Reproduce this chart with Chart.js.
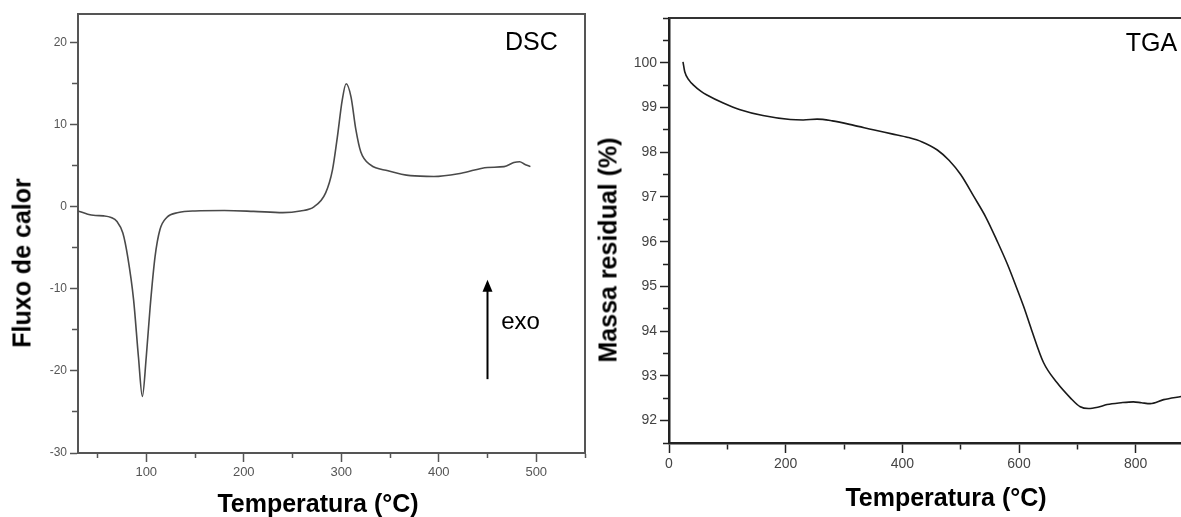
<!DOCTYPE html>
<html>
<head>
<meta charset="utf-8">
<script src="https://cdn.jsdelivr.net/npm/chart.js@4.4.0/dist/chart.umd.min.js"></script>
<style>
  html, body { margin: 0; padding: 0; width: 1181px; height: 517px; overflow: hidden; background: #fff; }
  body { position: relative; font-family: Arial, "Liberation Sans", sans-serif; }
  canvas { position: absolute; top: 0; }
  #dsc { left: 0; }
  #tga { left: 590px; }
  .axt { position: absolute; font-weight: bold; font-size: 25px; color: #000; white-space: nowrap; transform: translate(-50%, -50%); }
  .axt.vert { transform: translate(-50%, -50%) rotate(-90deg); }
</style>
</head>
<body>
<canvas id="dsc" width="600" height="517"></canvas>
<canvas id="tga" width="620" height="517"></canvas>

<div class="axt" style="left:318px; top:503px;">Temperatura (°C)</div>
<div class="axt vert" style="left:22px; top:263px;">Fluxo de calor</div>
<div class="axt" style="left:946px; top:497px;">Temperatura (°C)</div>
<div class="axt vert" style="left:608px; top:250px;">Massa residual (%)</div>

<script>
// DSC curve (temperature in °C, heat flow)
var dscTemp = [30, 40, 48, 56, 64, 70, 76, 81, 87, 92, 96, 100, 104, 109, 114, 121, 133, 150, 180, 210, 240, 258, 272, 284, 291, 296, 301, 305, 310, 315, 320, 330, 348, 371, 395, 423, 450, 467, 477, 483, 488, 494];
var dscFlow = [-0.5, -0.9, -1.05, -1.1, -1.3, -1.8, -3.2, -6.1, -11.3, -18.3, -23.1, -18.3, -12.2, -6.1, -2.8, -1.3, -0.7, -0.5, -0.45, -0.55, -0.7, -0.5, 0, 1.7, 4.5, 8.5, 13, 15.0, 13.4, 9.4, 6.7, 5.1, 4.4, 3.8, 3.7, 4.1, 4.8, 4.9, 5.4, 5.5, 5.2, 4.9];

// TGA curve (temperature in °C, residual mass %)
var tgaTemp = [24, 27, 35, 42, 55, 65, 93, 122, 161, 208, 230, 254, 280, 317, 350, 382, 410, 434, 460, 480, 500, 523, 543, 563, 580, 595, 608, 621, 642, 665, 688, 705, 719, 735, 751, 775, 796, 810, 825, 848, 878];
var tgaMass = [100.02, 99.8, 99.6, 99.5, 99.36, 99.28, 99.1, 98.95, 98.82, 98.73, 98.72, 98.74, 98.7, 98.6, 98.5, 98.41, 98.33, 98.23, 98.05, 97.82, 97.5, 97.0, 96.55, 96.0, 95.5, 95.0, 94.55, 94.05, 93.3, 92.85, 92.51, 92.31, 92.27, 92.3, 92.36, 92.4, 92.42, 92.4, 92.38, 92.47, 92.54];

// axis tick labels
var dscXLabels = [100, 200, 300, 400, 500];
var dscYLabels = [-30, -20, -10, 0, 10, 20];
var tgaXLabels = [0, 200, 400, 600, 800];
var tgaYLabels = [92, 93, 94, 95, 96, 97, 98, 99, 100];

var FONT = 'Arial, "Liberation Sans", sans-serif';

function points(xs, ys) {
  return xs.map(function (x, i) { return { x: x, y: ys[i] }; });
}

function labelIf(list) {
  return function (v) { return list.indexOf(Math.round(v * 100) / 100) >= 0 ? v : ''; };
}

// minor ticks drawn shorter with a dash pattern
function bottomDash(list, minorLen) {
  return function (ctx) {
    if (!ctx.tick) return [];
    return list.indexOf(ctx.tick.value) >= 0 ? [] : [minorLen, 40];
  };
}
function leftDash(list, tickLen, minorLen) {
  return function (ctx) {
    if (!ctx.tick) return [];
    var v = Math.round(ctx.tick.value * 100) / 100;
    return list.indexOf(v) >= 0 ? [] : [0, tickLen - 1 - minorLen, minorLen, 40];
  };
}

var framePlugin = {
  id: 'frame',
  afterDraw: function (chart) {
    var a = chart.chartArea, c = chart.ctx;
    c.save();
    c.strokeStyle = chart.options.frameColor;
    c.lineWidth = 2;
    c.beginPath();
    c.moveTo(a.left, a.top);
    c.lineTo(a.right, a.top);
    c.lineTo(a.right, a.bottom);
    c.stroke();
    c.restore();
  }
};

var dscNotes = {
  id: 'dscNotes',
  afterDraw: function (chart) {
    var c = chart.ctx, x = chart.scales.x, y = chart.scales.y;
    c.save();
    c.fillStyle = '#000';
    c.font = '25px ' + FONT;
    c.textAlign = 'center';
    c.textBaseline = 'middle';
    c.fillText('DSC', x.getPixelForValue(495), y.getPixelForValue(20));
    // exo arrow
    var ax = x.getPixelForValue(450);
    var top = y.getPixelForValue(-8.9), bot = y.getPixelForValue(-21);
    c.strokeStyle = '#000';
    c.lineWidth = 2;
    c.beginPath();
    c.moveTo(ax, bot);
    c.lineTo(ax, top + 8);
    c.stroke();
    c.beginPath();
    c.moveTo(ax, top);
    c.lineTo(ax - 5, top + 12);
    c.lineTo(ax + 5, top + 12);
    c.closePath();
    c.fill();
    c.font = '24px ' + FONT;
    c.textAlign = 'left';
    c.fillText('exo', x.getPixelForValue(464), y.getPixelForValue(-14.1));
    c.restore();
  }
};

var tgaNotes = {
  id: 'tgaNotes',
  afterDraw: function (chart) {
    var c = chart.ctx, x = chart.scales.x, y = chart.scales.y;
    c.save();
    c.fillStyle = '#000';
    c.font = '25px ' + FONT;
    c.textAlign = 'center';
    c.textBaseline = 'middle';
    c.fillText('TGA', x.getPixelForValue(827), y.getPixelForValue(100.42));
    c.restore();
  }
};

new Chart(document.getElementById('dsc'), {
  type: 'line',
  data: {
    datasets: [{
      data: points(dscTemp, dscFlow),
      borderColor: '#4a4a4a',
      borderWidth: 1.6,
      pointRadius: 0,
      cubicInterpolationMode: 'monotone',
      fill: false
    }]
  },
  options: {
    responsive: false,
    animation: false,
    frameColor: '#555',
    layout: { padding: { top: 14, right: 15, left: 0, bottom: 0 } },
    plugins: { legend: { display: false }, tooltip: { enabled: false } },
    scales: {
      x: {
        type: 'linear', min: 30, max: 550,
        afterFit: function (s) { s.height = 64; },
        border: { display: true, color: '#555', width: 2 },
        grid: { drawOnChartArea: false, tickLength: 9, tickColor: '#555', tickWidth: 1.5,
                tickBorderDash: bottomDash(dscXLabels, 4) },
        ticks: { stepSize: 50, includeBounds: false, autoSkip: false, maxRotation: 0,
                 color: '#555', padding: 3, font: { size: 13, family: FONT },
                 callback: labelIf(dscXLabels) }
      },
      y: {
        type: 'linear', min: -30, max: 23.5,
        afterFit: function (s) { s.width = 78; },
        border: { display: true, color: '#555', width: 2 },
        grid: { drawOnChartArea: false, tickLength: 8, tickColor: '#555', tickWidth: 1.5,
                tickBorderDash: leftDash(dscYLabels, 8, 5) },
        ticks: { stepSize: 5, includeBounds: false, autoSkip: false,
                 color: '#555', padding: 3, font: { size: 12, family: FONT },
                 callback: labelIf(dscYLabels) }
      }
    }
  },
  plugins: [framePlugin, dscNotes]
});

new Chart(document.getElementById('tga'), {
  type: 'line',
  data: {
    datasets: [{
      data: points(tgaTemp, tgaMass),
      borderColor: '#1a1a1a',
      borderWidth: 1.6,
      pointRadius: 0,
      cubicInterpolationMode: 'monotone',
      fill: false
    }]
  },
  options: {
    responsive: false,
    animation: false,
    frameColor: '#333',
    layout: { padding: { top: 18, right: 16, left: 0, bottom: 0 } },
    plugins: { legend: { display: false }, tooltip: { enabled: false } },
    scales: {
      x: {
        type: 'linear', min: 0, max: 900,
        afterFit: function (s) { s.height = 74; },
        border: { display: true, color: '#222', width: 2.5 },
        grid: { drawOnChartArea: false, tickLength: 10, tickColor: '#222', tickWidth: 1.5,
                tickBorderDash: bottomDash(tgaXLabels, 5) },
        ticks: { stepSize: 100, includeBounds: false, autoSkip: false, maxRotation: 0,
                 color: '#444', padding: 3, font: { size: 14, family: FONT },
                 callback: labelIf(tgaXLabels) }
      },
      y: {
        type: 'linear', min: 91.5, max: 101,
        afterFit: function (s) { s.width = 79; },
        border: { display: true, color: '#222', width: 2.5 },
        grid: { drawOnChartArea: false, tickLength: 9, tickColor: '#222', tickWidth: 1.5,
                tickBorderDash: leftDash(tgaYLabels, 9, 5) },
        ticks: { stepSize: 0.5, includeBounds: false, autoSkip: false,
                 color: '#444', padding: 3, font: { size: 14, family: FONT },
                 callback: labelIf(tgaYLabels) }
      }
    }
  },
  plugins: [framePlugin, tgaNotes]
});
</script>
</body>
</html>
